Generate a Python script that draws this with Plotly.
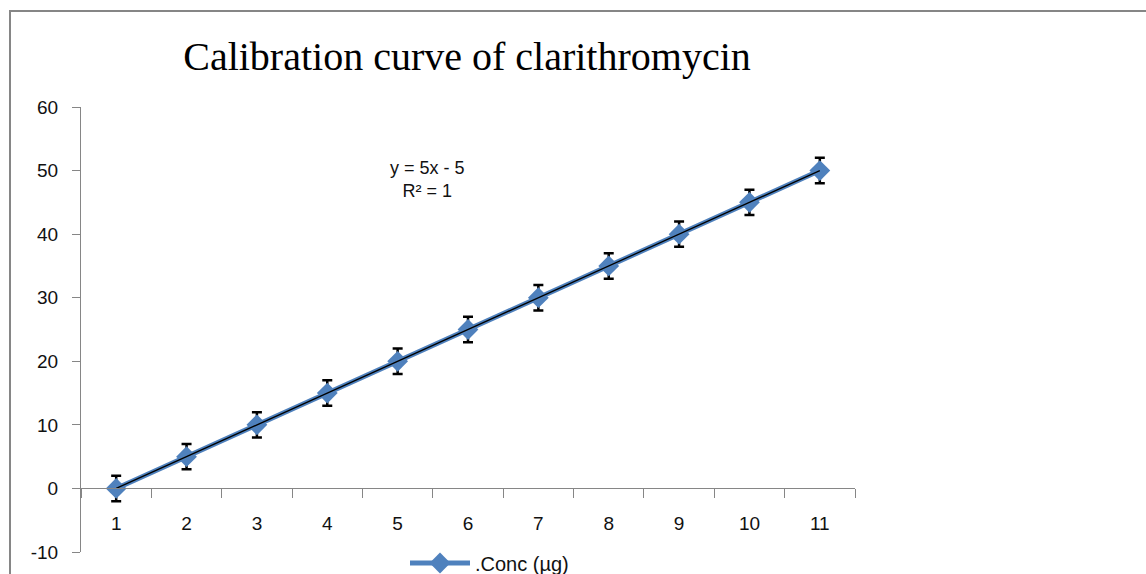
import numpy as np
import plotly.graph_objects as go

x_vals = [1, 2, 3, 4, 5, 6, 7, 8, 9, 10, 11]
conc = [0, 5, 10, 15, 20, 25, 30, 35, 40, 45, 50]
err = [2, 2, 2, 2, 2, 2, 2, 2, 2, 2, 2]
y_ticks = [-10, 0, 10, 20, 30, 40, 50, 60]
y_ticktext = ["-10", "0", "10", "20", "30", "40", "50", "60"]

slope, intercept = np.polyfit(x_vals, conc, 1)
trend = [slope * xv + intercept for xv in x_vals]

W, H = 1146, 574
L, R, T, B = 81, 291, 107, 22
pw, ph = W - L - R, H - T - B

def px(xp):
    return (xp - L) / pw

def py(yp):
    return (H - B - yp) / ph

fig = go.Figure()
fig.add_trace(go.Scatter(
    x=x_vals, y=conc, mode="lines+markers", name=".Conc (µg)",
    line=dict(color="#4F81BD", width=5),
    marker=dict(symbol="diamond", size=16, color="#4F81BD"),
    error_y=dict(type="data", array=err, visible=True, color="black", thickness=2.5, width=5),
))
fig.add_trace(go.Scatter(
    x=x_vals, y=trend, mode="lines", showlegend=False,
    line=dict(color="black", width=1.3), hoverinfo="skip",
))

fig.update_layout(
    width=W, height=H,
    margin=dict(l=L, r=R, t=T, b=B, autoexpand=False),
    paper_bgcolor="white", plot_bgcolor="white",
    font=dict(family="Liberation Sans, Arial, sans-serif", size=18, color="#111"),
    showlegend=True,
    legend=dict(orientation="h", x=px(405), y=py(563), xanchor="left", yanchor="middle",
                font=dict(size=20), bgcolor="rgba(0,0,0,0)", itemwidth=60),
    xaxis=dict(
        range=[0.5, 11.5], tickmode="array", tickvals=x_vals,
        ticktext=[str(v) for v in x_vals],
        showgrid=False, zeroline=False, showline=True, linecolor="#868686", linewidth=1,
        anchor="free", position=1 / 7, ticks="", ticklabelstandoff=18,
        tickfont=dict(size=19),
        minor=dict(tick0=0.5, dtick=1, ticks="outside", ticklen=9, tickcolor="#868686", showgrid=False),
    ),
    yaxis=dict(
        range=[-10, 60], tickmode="array", tickvals=y_ticks, ticktext=y_ticktext,
        showgrid=False, zeroline=False, showline=True, linecolor="#868686", linewidth=1,
        ticks="outside", ticklen=8, tickcolor="#868686", ticklabelstandoff=10,
        tickfont=dict(size=19),
    ),
    title=dict(text="Calibration curve of clarithromycin", x=467 / W, y=1 - 56 / H,
               xanchor="center", yanchor="middle",
               font=dict(family="Liberation Serif, Times New Roman, serif", size=40, color="black")),
    shapes=[dict(type="rect", xref="paper", yref="paper",
                 x0=px(10), x1=px(W + 20), y0=py(H + 20), y1=py(11),
                 line=dict(color="#868686", width=2), fillcolor="rgba(0,0,0,0)", layer="below")],
    annotations=[
        dict(text="y = 5x - 5<br>R² = 1", xref="paper", yref="paper", x=px(427), y=py(179),
             xanchor="center", yanchor="middle", showarrow=False,
             font=dict(size=18, color="#111"), align="center"),
    ],
)

fig.write_html("out.html")
